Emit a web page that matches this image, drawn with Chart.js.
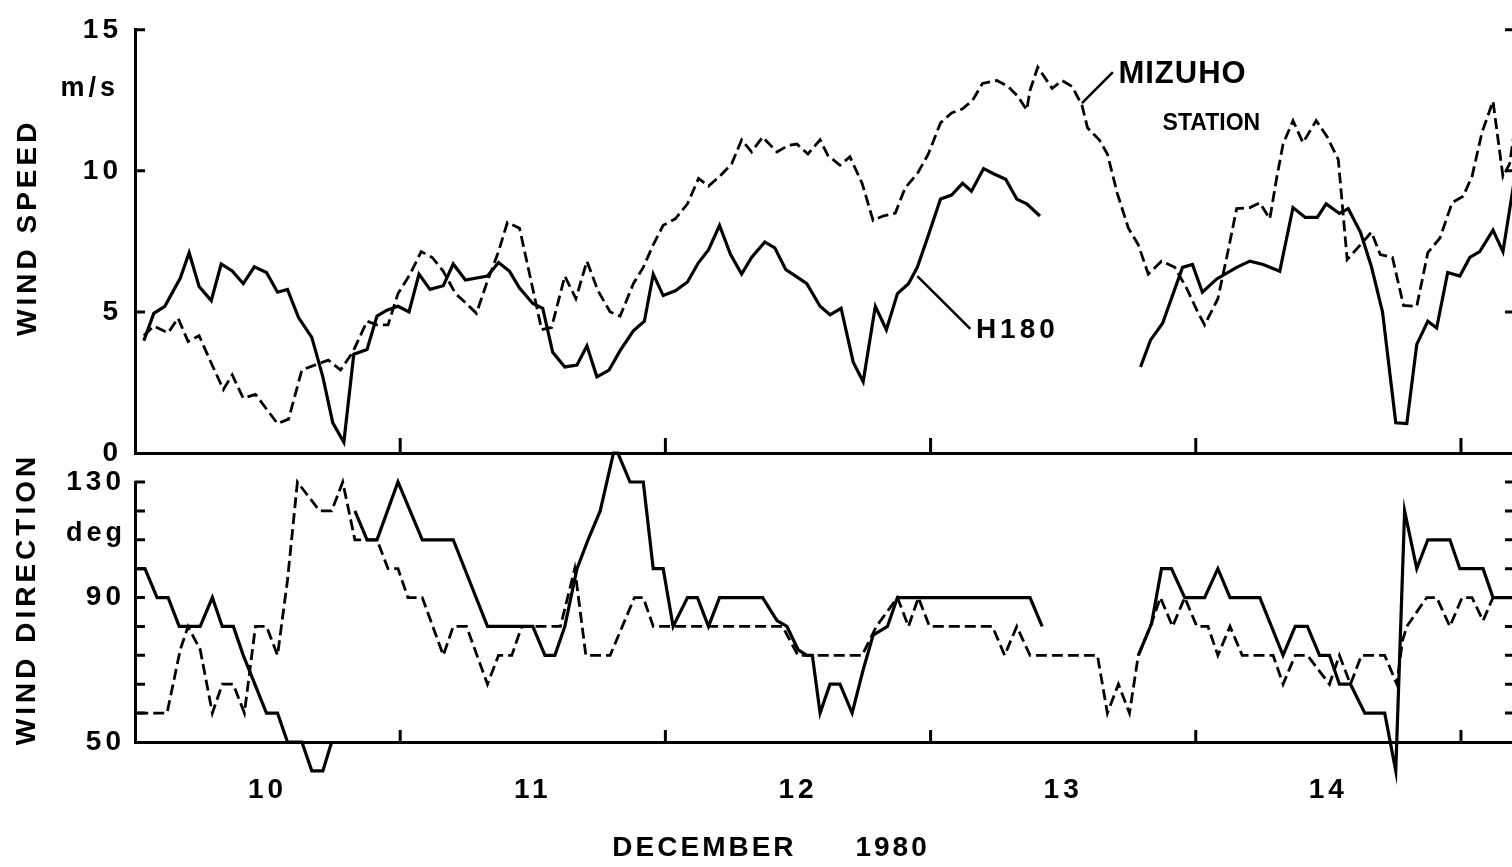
<!DOCTYPE html>
<html>
<head>
<meta charset="utf-8">
<script src="https://cdn.jsdelivr.net/npm/chart.js@4.4.1/dist/chart.umd.min.js"></script>
<style>
  html, body { margin: 0; padding: 0; background: #fff; overflow: hidden; }
  #wrap { position: relative; width: 1512px; height: 867px; overflow: hidden; }
  canvas { position: absolute; left: 0; top: 0; }
</style>
</head>
<body>
<div id="wrap">
  <canvas id="speedCanvas" width="1520" height="867"></canvas>
  <canvas id="dirCanvas" width="1520" height="867"></canvas>
</div>
<script>
// time axis: hours after 10 Dec 1980 00h
var dayStartHours = [24, 48, 72, 96, 120];
var dayLabelHours = [12, 36, 60, 84, 108];
var dayLabels = ['10', '11', '12', '13', '14'];

// wind speed, m/s  (null = gap in the record)
var h180SpeedHours = [0.8, 1.7, 2.7, 4.1, 4.9, 5.8, 6.9, 7.8, 8.8, 9.8, 10.8, 11.9, 12.9, 13.8, 14.8, 16.0, 17.0, 17.9, 18.9, 19.8,
  21.0, 21.9, 22.8, 23.8, 24.8, 25.7, 26.7, 27.9, 28.8, 29.9, 31.9, 32.9, 33.9, 34.8, 36.0, 36.9, 37.8, 38.9, 40.0, 40.9,
  41.8, 42.9, 43.9, 45.1, 46.1, 46.9, 47.8, 48.9, 50.0, 51.0, 51.9, 52.9, 53.9, 54.9, 55.8, 57.0, 57.9, 58.9, 59.9, 60.8,
  62.0, 62.9, 63.9, 65.0, 65.9, 67.0, 68.0, 69.0, 70.0, 70.8, 71.8, 72.9, 73.9, 74.9, 75.7, 76.8, 77.7, 78.8, 79.8, 80.7, 81.9,
  86,
  91.0, 91.9, 93.0, 94.8, 95.7, 96.6, 97.9, 99.7, 100.9, 102.1, 103.6, 104.8, 105.9, 107.0, 107.8, 109.0, 109.8, 110.9, 111.9, 112.9,
  114.1, 115.1, 116.0, 117.0, 117.8, 118.8, 119.9, 120.8, 121.7, 122.9, 123.8, 124.8];
var h180Speed = [3.98, 4.95, 5.2, 6.2, 7.1, 5.9, 5.4, 6.7, 6.45, 6.0, 6.6, 6.4, 5.7, 5.8, 4.8, 4.1, 2.7, 1.07, 0.38, 3.5,
  3.67, 4.85, 5.06, 5.2, 5.0, 6.34, 5.8, 5.93, 6.7, 6.13, 6.27, 6.75, 6.44, 5.85, 5.3, 5.13, 3.57, 3.05, 3.12, 3.8,
  2.7, 2.94, 3.63, 4.33, 4.67, 6.34, 5.58, 5.75, 6.06, 6.75, 7.2, 8.07, 7.03, 6.34, 6.93, 7.48, 7.27, 6.5, 6.24, 6.0,
  5.2, 4.9, 5.13, 3.22, 2.53, 5.2, 4.37, 5.65, 6.0, 6.58, 7.72, 9.0, 9.14, 9.56, 9.28, 10.08, 9.9, 9.7, 9.0, 8.83, 8.4,
  null,
  3.05, 4.0, 4.6, 6.58, 6.68, 5.7, 6.17, 6.58, 6.8, 6.68, 6.44, 8.7, 8.35, 8.35, 8.83, 8.49, 8.66, 7.83, 6.6, 5.0,
  1.07, 1.04, 3.85, 4.67, 4.43, 6.4, 6.27, 6.93, 7.14, 7.9, 7.14, 9.6];

var mizuhoSpeedHours = [0.8, 1.7, 3.0, 3.9, 4.8, 5.8, 7.0, 8.0, 8.8, 9.8, 10.9, 11.9, 12.9, 13.9, 15.1, 16.5, 17.5, 18.6, 19.7, 21.0,
  21.9, 22.9, 23.8, 24.9, 25.9, 26.9, 27.9, 29.0, 30.0, 30.9, 31.9, 32.9, 33.7, 34.8, 35.9, 36.8, 37.7, 38.9, 39.9, 40.9,
  41.9, 43.0, 43.9, 45.1, 46.0, 46.9, 47.8, 48.9, 50.0, 51.0, 51.9, 52.9, 54.0, 54.9, 55.8, 56.8, 58.1, 59.1, 59.9, 60.9,
  62.0, 62.7, 63.8, 64.7, 65.8, 66.8, 67.7, 68.8, 69.7, 70.8, 71.8, 72.9, 73.9, 74.9, 75.8, 76.7, 78.0, 79.0, 79.9, 80.7,
  81.0, 81.7, 83.0, 83.9, 84.8, 85.7, 86.2, 87.3, 88.0, 88.9, 89.9, 90.8, 91.7, 92.9, 94.1, 95.2, 96.1, 96.8, 98.0, 98.8,
  99.7, 100.9, 101.8, 102.7, 103.3, 103.9, 104.8, 105.7, 106.9, 107.9, 108.9, 109.7, 110.9, 111.9, 112.7, 113.8, 114.8, 116.0, 117.0, 118.1,
  119.2, 120.2, 121.0, 121.9, 122.9, 123.8, 124.4, 124.8];
var mizuhoSpeed = [4.16, 4.5, 4.26, 4.78, 3.95, 4.16, 3.1, 2.25, 2.77, 1.94, 2.08, 1.56, 1.04, 1.2, 2.94, 3.15, 3.29, 2.94, 3.57, 4.67,
  4.54, 4.54, 5.65, 6.34, 7.14, 6.93, 6.44, 5.65, 5.3, 4.95, 6.1, 7.14, 8.17, 7.97, 6.0, 4.37, 4.45, 6.27, 5.47, 6.8,
  5.75, 5.0, 4.85, 6.0, 6.58, 7.38, 8.07, 8.3, 8.83, 9.73, 9.46, 9.8, 10.25, 11.1, 10.67, 11.2, 10.67, 10.9, 10.95, 10.6,
  11.1, 10.55, 10.2, 10.5, 9.56, 8.24, 8.4, 8.5, 9.4, 9.9, 10.6, 11.7, 12.05, 12.2, 12.5, 13.1, 13.2, 13.0, 12.64, 12.16,
  12.85, 13.68, 12.92, 13.2, 12.99, 12.33, 11.53, 11.08, 10.6, 9.2, 7.97, 7.38, 6.34, 6.8, 6.58, 5.82, 5.06, 4.54, 5.47, 6.93,
  8.66, 8.7, 8.87, 8.3, 9.7, 10.95, 11.78, 11.0, 11.78, 11.2, 10.4, 6.86, 7.38, 7.83, 7.03, 6.93, 5.23, 5.2, 7.1, 7.62,
  8.87, 9.1, 9.8, 11.36, 12.47, 9.8, 10.25, 11.3];

// wind direction, deg
var h180DirHours = [0.2, 0.9, 2.0, 3.0, 4.0, 5.9, 7.0, 7.9, 8.9, 9.8, 11.9, 12.9, 13.8, 15.1, 16.0, 17.0, 17.8,
  18.8,
  19.9, 21.0, 21.9, 23.8, 26.0, 28.8, 31.9, 36.0, 37.1, 38.0, 38.9, 40.0, 41.0, 42.1, 43.3, 43.7, 44.8, 46.0, 46.9, 47.8,
  48.7, 50.0, 50.9, 51.9, 52.9, 56.8, 58.1, 59.0, 60.0, 60.8, 61.3, 62.0, 62.9, 63.8, 64.9, 65.9, 66.8, 68.1, 69.0, 81.0, 82.1,
  86,
  90.8, 92.0, 92.9, 93.8, 95.0, 96.8, 98.0, 99.1, 101.8, 103.9, 105.0, 106.1, 107.2, 108.1, 109.0, 110.0, 111.3, 113.1,
  114.1, 114.9, 116.0, 117.0, 119.0, 119.9, 122.0, 122.9, 124.8];
var h180Dir = [100, 100, 90, 90, 80, 80, 90, 80, 80, 70, 50, 50, 40, 40, 30, 30, 40,
  null,
  120, 110, 110, 130, 110, 110, 80, 80, 70, 70, 80, 100, 110, 120, 140, 140, 130, 130, 100, 100,
  80, 90, 90, 80, 90, 90, 82, 80, 72, 70, 70, 50, 60, 60, 50, 65, 77, 80, 90, 90, 80,
  null,
  70, 81, 100, 100, 90, 90, 100, 90, 90, 70, 80, 80, 70, 70, 60, 60, 50, 50,
  30, 120, 100, 110, 110, 100, 100, 90, 90];

var mizuhoDirHours = [0.2, 2.9, 4.1, 4.8, 5.9, 7.0, 7.9, 8.9, 9.9, 10.9, 11.9, 12.9, 13.8, 14.7, 16.7, 17.8, 18.8, 19.9, 21.9, 22.9,
  23.8, 24.7, 26.0, 27.9, 28.8, 30.0, 31.9, 32.9, 34.1, 35.0, 38.5, 39.8, 40.8, 43.0, 45.2, 46.0, 46.9, 58.6, 60.0, 65.8,
  67.1, 69.0, 70.0, 70.9, 71.9, 77.6, 78.7, 79.8, 81.0, 87.1, 88.0, 89.0, 90.0, 90.8, 91.9, 92.8, 93.9, 95.0, 96.1, 97.1,
  98.0, 99.1, 100.2, 103.0, 103.9, 105.0, 106.1, 108.1, 109.0, 110.0, 111.0, 113.1, 114.2, 114.7, 115.1, 116.9, 117.8, 119.0,
  120.1, 121.0, 122.0, 122.9, 124.8];
var mizuhoDir = [50, 50, 72, 80, 72, 50, 60, 60, 50, 80, 80, 70, 96, 130, 120, 120, 130, 110, 110, 100,
  100, 90, 90, 70, 80, 80, 60, 70, 70, 80, 80, 100, 70, 70, 90, 90, 80, 80, 70, 70,
  80, 90, 80, 90, 80, 80, 70, 80, 70, 70, 50, 60, 50, 70, 80, 90, 80, 90, 80, 80,
  70, 80, 70, 70, 60, 70, 70, 60, 70, 60, 70, 70, 60, 75, 80, 90, 90, 80,
  90, 90, 82, 90, 90];

var speedTickValues = [5, 10, 15];
var dirTickValues = [50, 60, 70, 80, 90, 100, 110, 120, 130];

var FONT = "'Liberation Sans', Arial, Helvetica, sans-serif";
Chart.defaults.font.family = FONT;
Chart.defaults.font.weight = 'bold';
Chart.defaults.font.size = 28;
Chart.defaults.color = '#000';

function pts(hours, values) {
  return hours.map(function (h, i) { return { x: h, y: values[i] }; });
}

// inward tick marks, labels and leader lines of the old figure
var figureMarks = {
  id: 'figureMarks',
  beforeDraw: function (chart) { chart.ctx.letterSpacing = '4px'; },
  afterDraw: function (chart, args, o) {
    var ctx = chart.ctx, xs = chart.scales.x, ys = chart.scales.y, a = chart.chartArea;
    ctx.save();
    ctx.strokeStyle = '#000';
    ctx.fillStyle = '#000';
    ctx.lineWidth = 3;
    o.sideTicks.forEach(function (v) {
      var py = ys.getPixelForValue(v);
      ctx.beginPath();
      ctx.moveTo(a.left, py); ctx.lineTo(a.left + o.sideTickLen, py);
      ctx.moveTo(a.right, py); ctx.lineTo(a.right - o.sideTickLen + 1, py);
      ctx.stroke();
    });
    dayStartHours.forEach(function (h) {
      var px = xs.getPixelForValue(h);
      ctx.beginPath();
      ctx.moveTo(px, a.bottom); ctx.lineTo(px, a.bottom - o.dayTickLen);
      ctx.stroke();
    });
    ctx.lineWidth = 2.5;
    (o.leaders || []).forEach(function (l) {
      ctx.beginPath();
      ctx.moveTo(xs.getPixelForValue(l[0]), ys.getPixelForValue(l[1]));
      ctx.lineTo(xs.getPixelForValue(l[2]), ys.getPixelForValue(l[3]));
      ctx.stroke();
    });
    (o.texts || []).forEach(function (t) {
      ctx.font = 'bold ' + (t.size || 28) + 'px ' + FONT;
      ctx.letterSpacing = (t.spacing == null ? 4 : t.spacing) + 'px';
      ctx.textAlign = t.align || 'left';
      ctx.textBaseline = t.baseline || 'middle';
      var px = t.dx != null ? a.left + t.dx : xs.getPixelForValue(t.x);
      var py = t.dy != null ? a.bottom + t.dy : ys.getPixelForValue(t.y);
      if (t.rotate) {
        ctx.save();
        ctx.translate(px, py);
        ctx.rotate(-Math.PI / 2);
        ctx.fillText(t.text, 0, 0);
        ctx.restore();
      } else {
        ctx.fillText(t.text, px, py);
      }
    });
    ctx.restore();
  }
};

function lineSet(label, data, dashed) {
  return {
    label: label,
    data: data,
    borderColor: '#000',
    borderWidth: dashed ? 2.8 : 3.2,
    borderDash: dashed ? [11, 5] : [],
    pointRadius: 0,
    tension: 0,
    clip: false
  };
}

var axisBorder = { display: true, color: '#000', width: 3 };

new Chart(document.getElementById('speedCanvas'), {
  type: 'line',
  data: {
    datasets: [
      lineSet('H180', pts(h180SpeedHours, h180Speed), false),
      lineSet('MIZUHO STATION', pts(mizuhoSpeedHours, mizuhoSpeed), true)
    ]
  },
  options: {
    responsive: false,
    animation: false,
    devicePixelRatio: 1,
    layout: { padding: { top: 20, right: 6, left: 0, bottom: 0 } },
    plugins: {
      legend: { display: false },
      tooltip: { enabled: false },
      figureMarks: {
        sideTicks: speedTickValues,
        sideTickLen: 10,
        dayTickLen: 15,
        leaders: [[85.7, 12.4, 88.5, 13.5], [70.8, 6.27, 75.6, 4.4]],
        texts: [
          { text: 'WIND SPEED', dx: -107, y: 8.0, rotate: true, align: 'center' },
          { text: 'm/s', dx: -16, y: 12.64, align: 'right', baseline: 'alphabetic', size: 27 },
          { text: 'MIZUHO', x: 89.0, y: 13.4, size: 31, spacing: 1 },
          { text: 'STATION', x: 93.0, y: 11.67, size: 23, spacing: 0 },
          { text: 'H180', x: 76.1, y: 4.36 }
        ]
      }
    },
    scales: {
      x: {
        type: 'linear', min: 0, max: 124.8,
        ticks: { display: false },
        grid: { display: false, drawTicks: false },
        border: axisBorder,
        afterFit: function (s) { s.height = 867 - 453; }
      },
      y: {
        min: 0, max: 15,
        ticks: { stepSize: 5, padding: 13, autoSkip: false },
        grid: { display: false, drawTicks: false },
        border: axisBorder,
        afterFit: function (s) { s.width = 135; }
      }
    }
  },
  plugins: [figureMarks]
});

new Chart(document.getElementById('dirCanvas'), {
  type: 'line',
  data: {
    datasets: [
      lineSet('H180', pts(h180DirHours, h180Dir), false),
      lineSet('MIZUHO STATION', pts(mizuhoDirHours, mizuhoDir), true)
    ]
  },
  options: {
    responsive: false,
    animation: false,
    devicePixelRatio: 1,
    layout: { padding: { top: 482, right: 6, left: 0, bottom: 0 } },
    plugins: {
      legend: { display: false },
      tooltip: { enabled: false },
      figureMarks: {
        sideTicks: dirTickValues,
        sideTickLen: 10,
        dayTickLen: 12,
        texts: [
          { text: 'WIND DIRECTION', dx: -108, y: 89.5, rotate: true, align: 'center' },
          { text: 'deg', dx: -9, y: 109.55, align: 'right', baseline: 'alphabetic', size: 27 },
          { text: 'DECEMBER', x: 43.2, dy: 106, spacing: 3 },
          { text: '1980', x: 65.2, dy: 106, spacing: 3 }
        ]
      }
    },
    scales: {
      x: {
        type: 'linear', min: 0, max: 124.8,
        afterBuildTicks: function (s) { s.ticks = dayLabelHours.map(function (v) { return { value: v }; }); },
        ticks: {
          padding: 31, maxRotation: 0, autoSkip: false,
          callback: function (v, i) { return dayLabels[i]; }
        },
        grid: { display: false, drawTicks: false },
        border: axisBorder,
        afterFit: function (s) { s.height = 867 - 742; }
      },
      y: {
        min: 40, max: 130,
        ticks: {
          stepSize: 10, padding: 10, autoSkip: false,
          callback: function (v) { return v === 130 ? '130' : v === 90 ? '90' : v === 40 ? '50' : ''; }
        },
        grid: { display: false, drawTicks: false },
        border: axisBorder,
        afterFit: function (s) { s.width = 135; }
      }
    }
  },
  plugins: [figureMarks]
});
</script>
</body>
</html>
